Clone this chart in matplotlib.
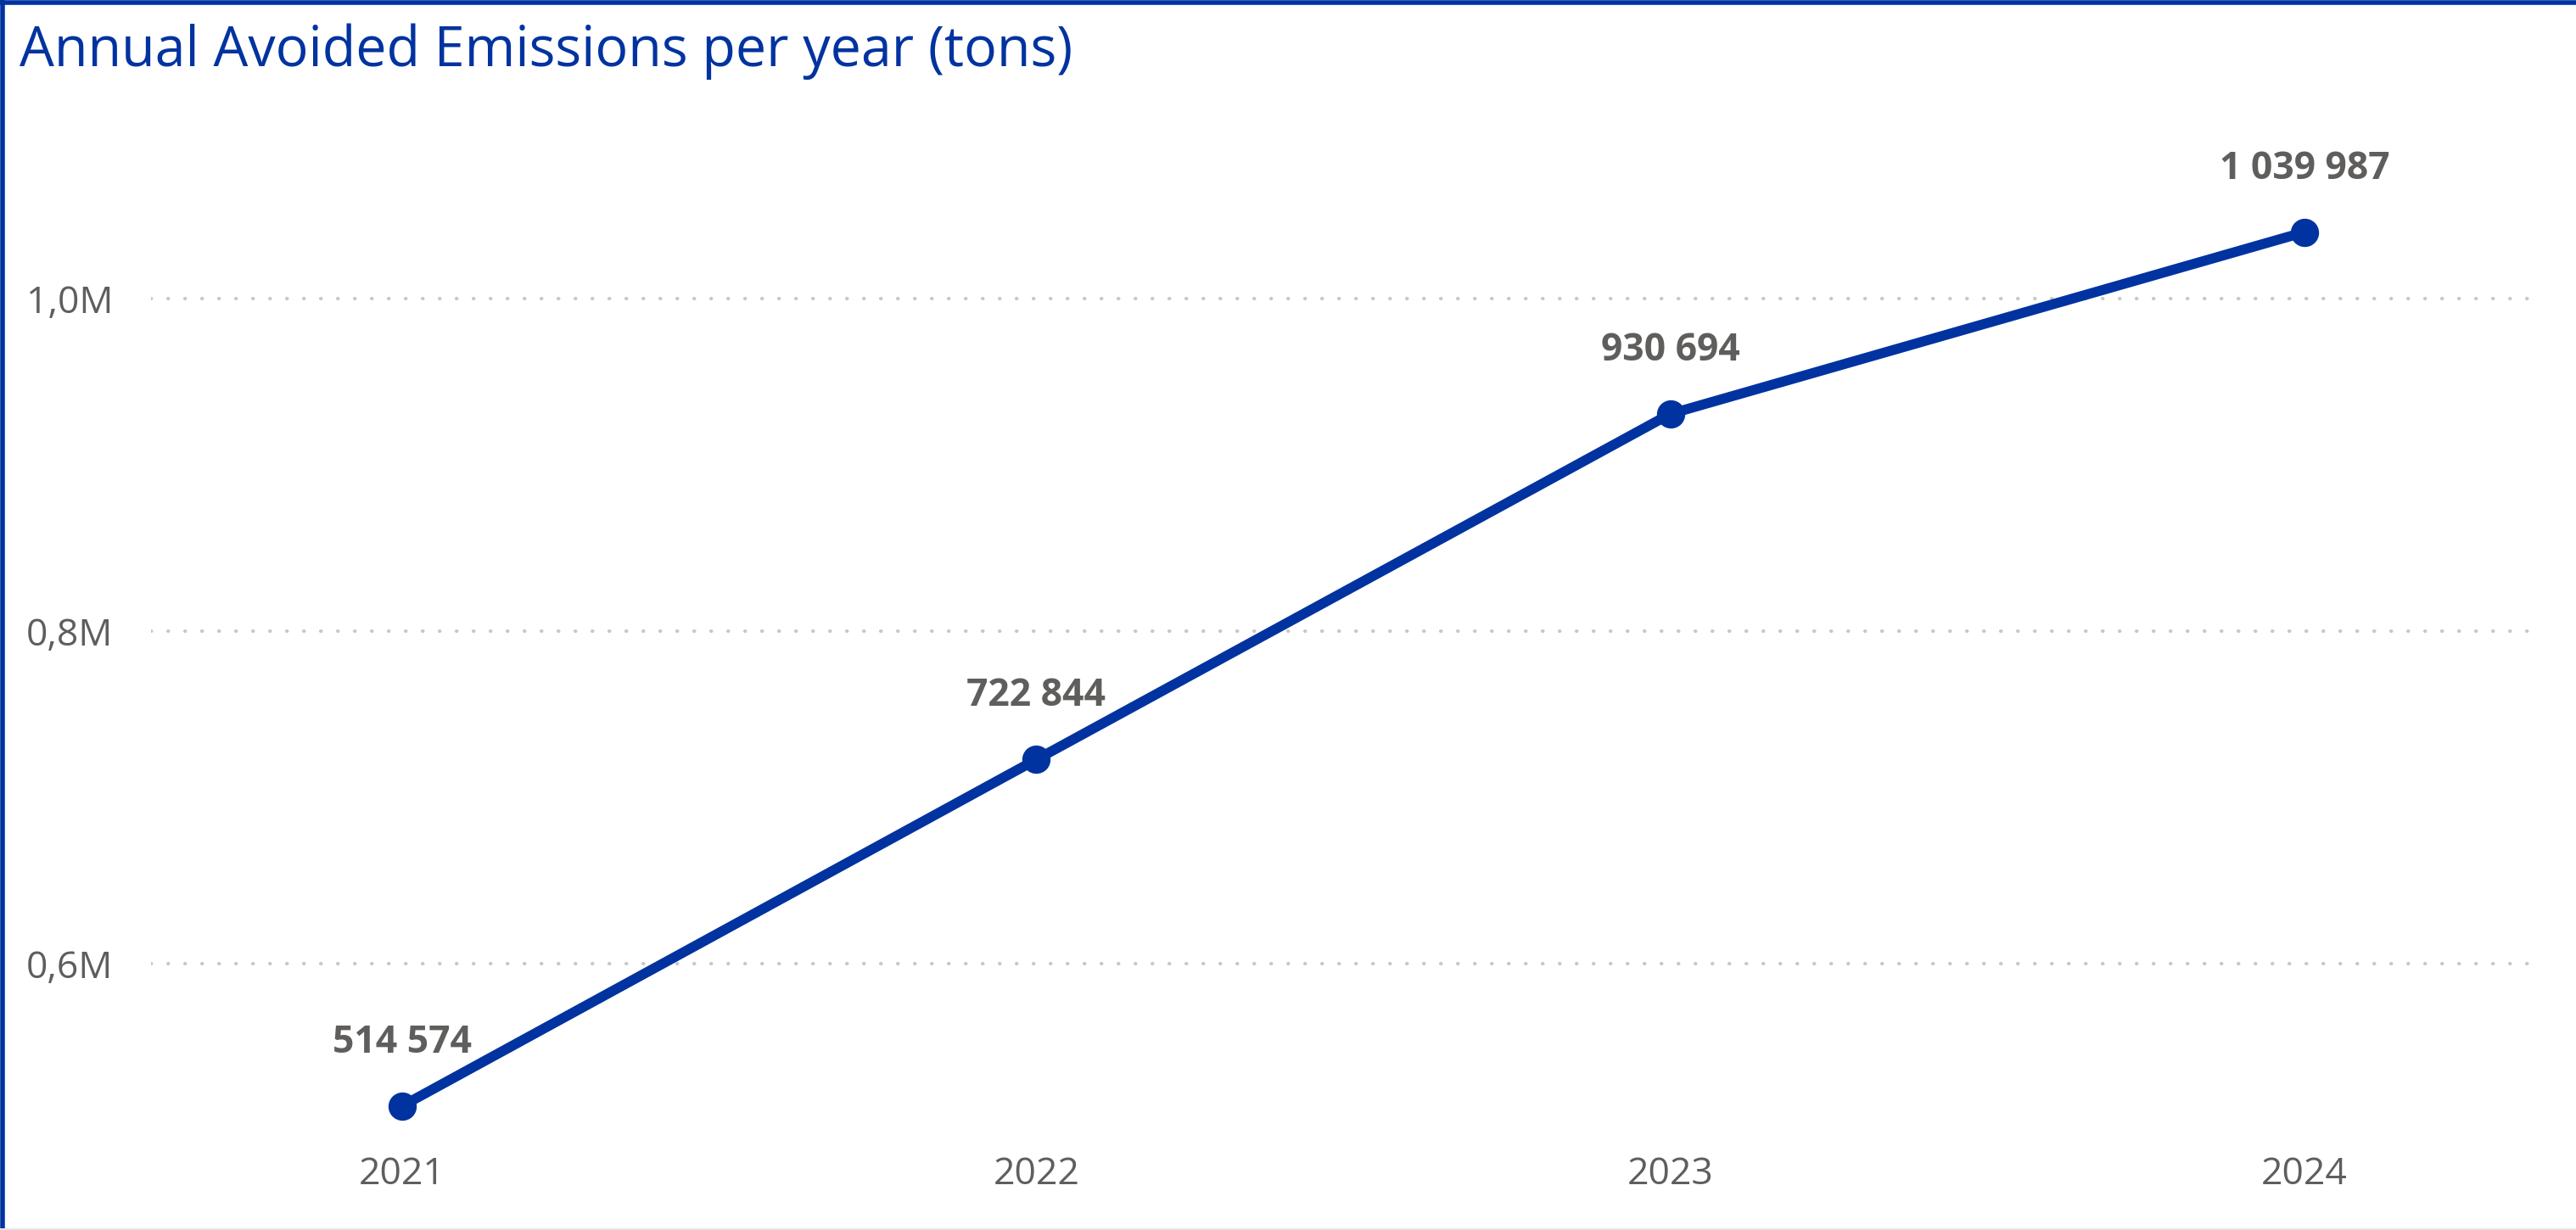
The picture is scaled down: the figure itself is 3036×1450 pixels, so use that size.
import matplotlib
matplotlib.use("Agg")
import matplotlib.pyplot as plt
from matplotlib.lines import Line2D
from matplotlib.ticker import FuncFormatter

# ── Datos ────────────────────────────────────────────────────────────────
years = ["2021", "2022", "2023", "2024"]
avoided_tons = [514574, 722844, 930694, 1039987]
y_ticks = [600000, 800000, 1000000]

TITLE = "Annual Avoided Emissions per year (tons)"
BLUE = "#0033A0"
GREY_TXT = "#605E5C"
GRID = "#C8C8C8"

plt.rcParams["font.family"] = ["Open Sans", "DejaVu Sans"]

W, H = 3036, 1450
fig = plt.figure(figsize=(W / 100, H / 100), dpi=100)

# axes placed in pixel terms
ax_l, ax_r, ax_top, ax_bot = 178, 2991, 175, 1350
ax = fig.add_axes([ax_l / W, (H - ax_bot) / H, (ax_r - ax_l) / W, (ax_bot - ax_top) / H])

x = list(range(len(years)))
ax.plot(x, avoided_tons, color=BLUE, linewidth=8.5, marker="o",
        markersize=23, solid_capstyle="round", zorder=3)

for xi, v in zip(x, avoided_tons):
    label = f"{v:,}".replace(",", " ")
    ax.annotate(label, xy=(xi, v), xytext=(0, 52), textcoords="offset pixels",
                ha="center", va="bottom", fontsize=32, fontweight="bold",
                color=GREY_TXT)

ax.set_xlim(-0.396, 3.368)
ax.set_ylim(491000, 1090300)
ax.set_xticks(x)
ax.set_xticklabels(years)
ax.set_yticks(y_ticks)
ax.yaxis.set_major_formatter(FuncFormatter(lambda v, p: f"{v / 1e6:.1f}M".replace(".", ",")))

ax.tick_params(axis="both", length=0, labelsize=32, labelcolor=GREY_TXT)
ax.tick_params(axis="y", pad=32)
ax.tick_params(axis="x", pad=9)
for lbl in ax.get_yticklabels():
    lbl.set_horizontalalignment("right")

ax.grid(axis="y", color=GRID, linewidth=3, linestyle=(0, (0.1, 4.7)),
        dash_capstyle="round")
for s in ax.spines.values():
    s.set_visible(False)

# título
fig.text(23 / W, 1 - 78 / H, TITLE, fontsize=46.5, color=BLUE,
         ha="left", va="baseline")

# marco: azul arriba e izquierda, gris claro abajo
fig.add_artist(Line2D([0, 1], [1 - 3 / H, 1 - 3 / H], color=BLUE, linewidth=4,
                      transform=fig.transFigure))
fig.add_artist(Line2D([3 / W, 3 / W], [0, 1], color=BLUE, linewidth=4,
                      transform=fig.transFigure))
fig.add_artist(Line2D([0, 1], [1 / H, 1 / H], color="#E6E6E6", linewidth=1.5,
                      transform=fig.transFigure))

fig.savefig("out.png", dpi=100, facecolor="white")
plt.close(fig)
